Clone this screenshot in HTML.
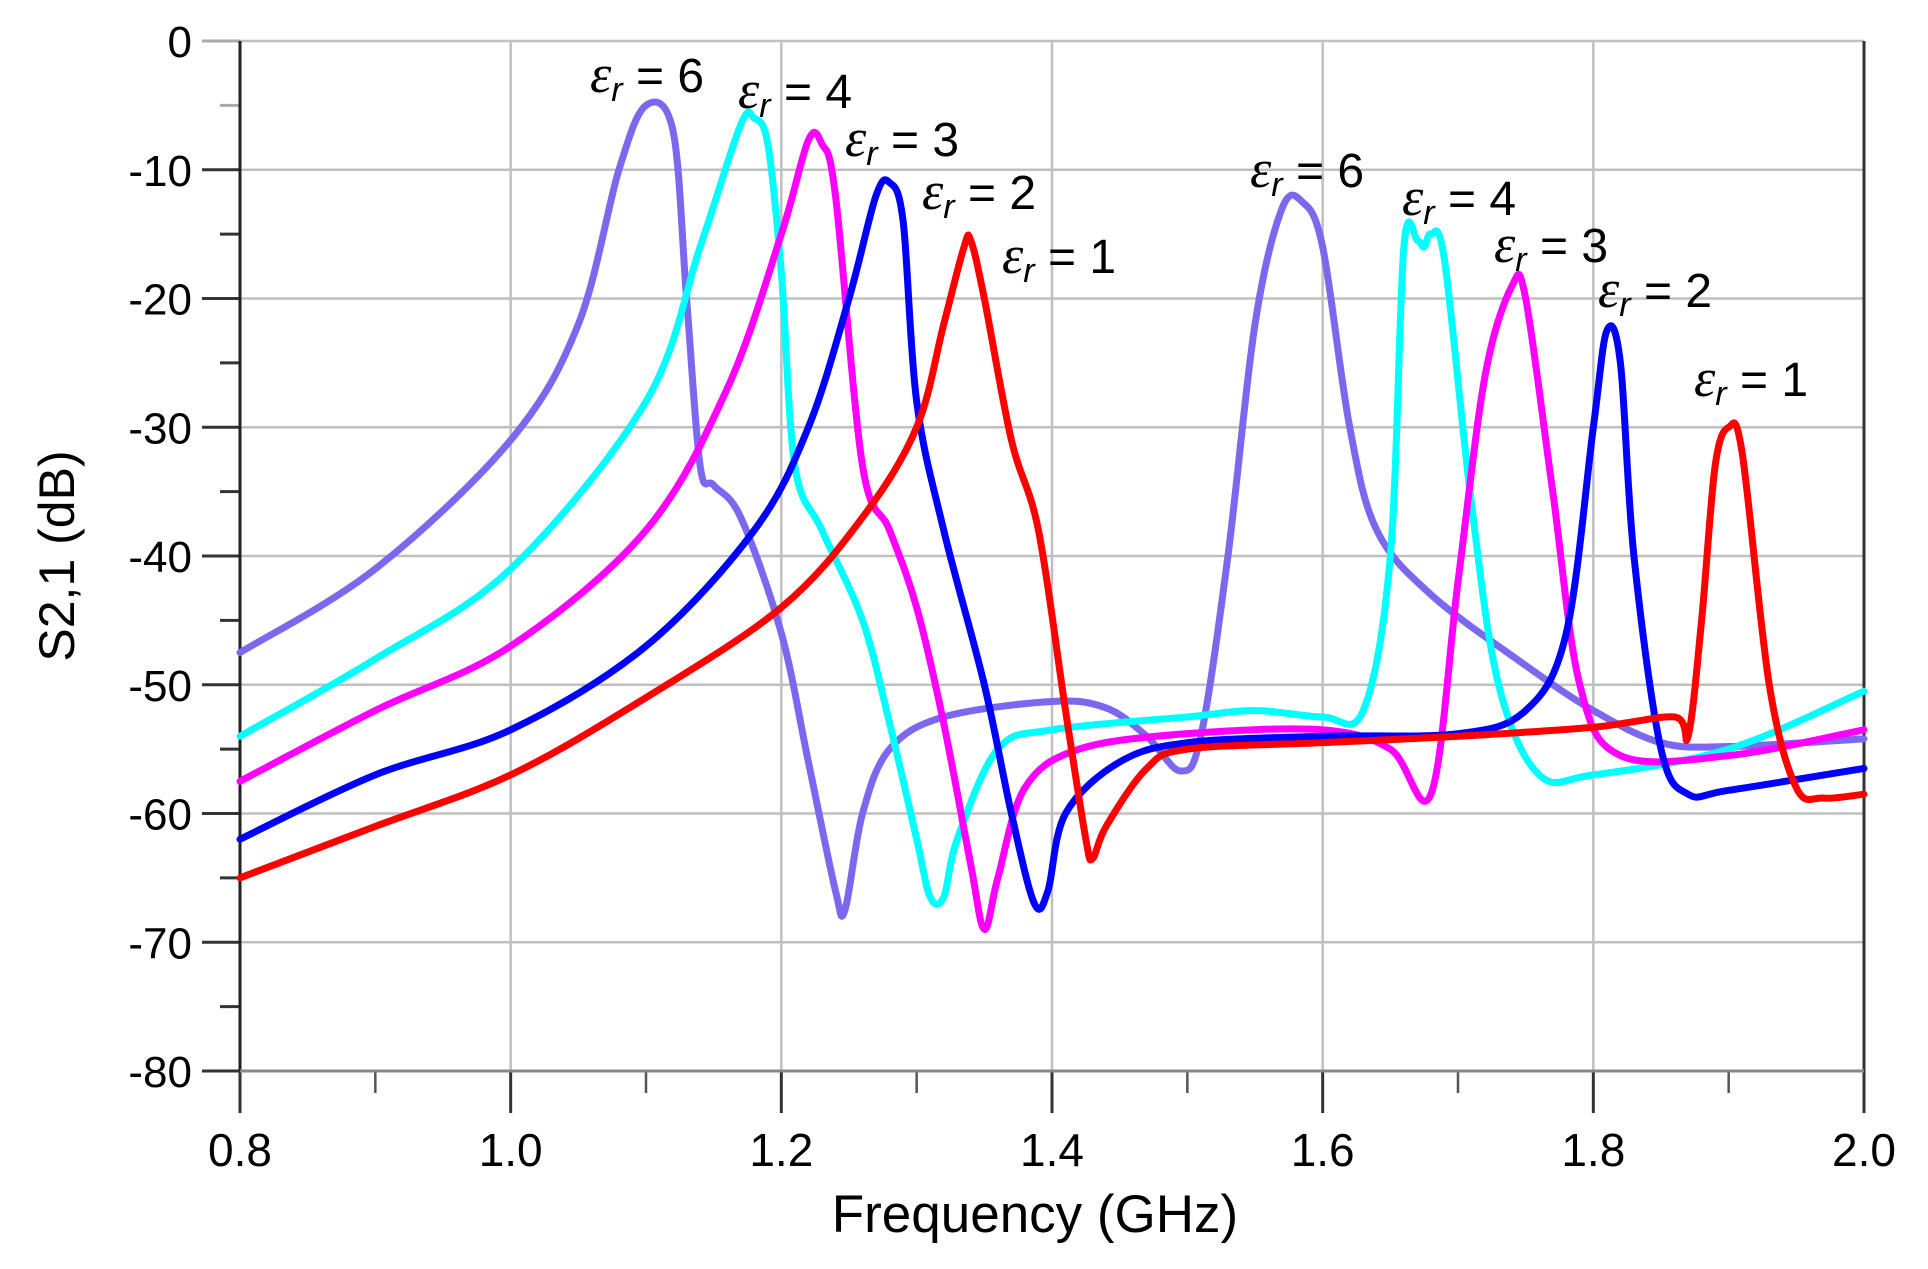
<!DOCTYPE html>
<html><head><meta charset="utf-8"><style>
html,body{margin:0;padding:0;background:#fff;}
svg{display:block;}
text{font-family:"Liberation Sans",sans-serif;fill:#000;}
</style></head><body>
<svg id="s" width="1928" height="1269" xmlns="http://www.w3.org/2000/svg">
<g id="grid"></g>
<g id="curves" fill="none" stroke-width="7" stroke-linejoin="round" stroke-linecap="round"></g>
<g id="lab" font-size="48"></g>
<text x="1035" y="1232" font-size="53" text-anchor="middle">Frequency (GHz)</text>
<text transform="translate(74,556) rotate(-90)" font-size="50" text-anchor="middle">S2,1 (dB)</text>
</svg>
<script>
const L=240,R=1864,T=41,B=1071;
const X=f=>L+(f-0.8)/1.2*(R-L), Y=d=>T+(-d)/80*(B-T);
const ns="http://www.w3.org/2000/svg";
function el(p,t,a,txt){const e=document.createElementNS(ns,t);for(const k in a)e.setAttribute(k,a[k]);if(txt!==undefined)e.textContent=txt;p.appendChild(e);return e;}
const g=document.getElementById('grid');
for(let i=0;i<=6;i++){const x=X(0.8+0.2*i);el(g,'line',{x1:x,y1:T,x2:x,y2:B,stroke:'#c0c0c0','stroke-width':2.5});
 el(g,'line',{x1:x,y1:B,x2:x,y2:B+42,stroke:'#333','stroke-width':3});
 el(g,'text',{x:x,y:1166,'font-size':46,'text-anchor':'middle'},(0.8+0.2*i).toFixed(1));
 if(i<6){const xm=X(0.9+0.2*i);el(g,'line',{x1:xm,y1:B,x2:xm,y2:B+22,stroke:'#555','stroke-width':2.5});}}
for(let i=0;i<=8;i++){const y=Y(-10*i);el(g,'line',{x1:L,y1:y,x2:R,y2:y,stroke:'#c0c0c0','stroke-width':2.5});
 el(g,'line',{x1:L-38,y1:y,x2:L,y2:y,stroke:i==0?'#aaa':'#333','stroke-width':3});
 el(g,'text',{x:192,y:y+16,'font-size':44,'text-anchor':'end'},i==0?'0':'-'+(10*i));
 if(i<8){const ym=Y(-10*i-5);el(g,'line',{x1:L-20,y1:ym,x2:L,y2:ym,stroke:i==0?'#aaa':'#333','stroke-width':3});}}
el(g,'line',{x1:L,y1:T,x2:L,y2:B,stroke:'#222','stroke-width':3});
el(g,'line',{x1:R,y1:T,x2:R,y2:B,stroke:'#333','stroke-width':3});
el(g,'line',{x1:L,y1:B,x2:R,y2:B,stroke:'#888','stroke-width':3});
const data={
'#7B68EE':[[0.8,-47.5],[0.9,-41],[1.0,-31],[1.05,-22],[1.08,-10],[1.10,-5],[1.12,-7],[1.13,-20],[1.14,-33],[1.15,-34.5],[1.17,-37],[1.2,-46],[1.22,-56],[1.24,-66],[1.247,-67.5],[1.26,-60],[1.28,-55],[1.32,-52.5],[1.4,-51.3],[1.44,-51.8],[1.47,-54],[1.495,-56.7],[1.51,-54],[1.53,-40],[1.55,-22],[1.57,-13],[1.585,-12.5],[1.6,-16],[1.62,-30],[1.64,-38],[1.68,-43],[1.75,-48.5],[1.8,-52],[1.85,-54.5],[1.9,-54.8],[2.0,-54.2]],
'#00FFFF':[[0.8,-54],[0.9,-48],[1.0,-41],[1.1,-28],[1.14,-16],[1.17,-6.5],[1.18,-6],[1.19,-8],[1.2,-18],[1.21,-33],[1.23,-38],[1.26,-45],[1.28,-53],[1.3,-62],[1.31,-66.5],[1.32,-66.5],[1.33,-62],[1.36,-55],[1.4,-53.5],[1.5,-52.5],[1.55,-52],[1.6,-52.5],[1.63,-52],[1.65,-40],[1.66,-16],[1.67,-15.5],[1.675,-16],[1.68,-15],[1.69,-17],[1.71,-36],[1.73,-50],[1.76,-57],[1.8,-57],[1.9,-55],[2.0,-50.5]],
'#FF00FF':[[0.8,-57.5],[0.9,-52],[1.0,-47],[1.1,-38],[1.16,-27],[1.2,-15],[1.22,-7.7],[1.23,-8],[1.24,-12],[1.26,-33],[1.28,-38],[1.3,-44],[1.32,-53],[1.34,-64],[1.35,-69],[1.36,-65],[1.38,-58],[1.42,-55],[1.5,-53.8],[1.6,-53.5],[1.65,-55],[1.68,-58.5],[1.7,-42],[1.72,-26],[1.74,-19],[1.75,-20],[1.77,-35],[1.79,-50],[1.82,-55.5],[1.9,-55.5],[2.0,-53.5]],
'#0000FF':[[0.8,-62],[0.9,-57],[1.0,-53.5],[1.1,-47],[1.18,-38],[1.22,-30],[1.25,-20],[1.27,-12],[1.28,-11],[1.29,-14],[1.3,-28],[1.32,-38],[1.35,-50],[1.37,-60],[1.387,-67],[1.397,-66],[1.41,-60],[1.45,-56],[1.5,-54.5],[1.6,-54],[1.7,-53.8],[1.75,-52],[1.78,-46],[1.8,-30],[1.81,-22.5],[1.82,-25],[1.83,-40],[1.85,-55],[1.87,-58.5],[1.9,-58.2],[2.0,-56.5]],
'#FF0000':[[0.8,-65],[0.9,-61],[1.0,-57],[1.1,-51],[1.2,-44],[1.26,-37],[1.3,-30],[1.32,-22],[1.335,-16],[1.34,-15.5],[1.35,-20],[1.37,-31],[1.39,-38],[1.41,-52],[1.425,-62],[1.43,-63.5],[1.44,-61],[1.47,-56.5],[1.5,-55],[1.6,-54.5],[1.7,-54],[1.8,-53.3],[1.86,-52.5],[1.87,-54],[1.88,-45],[1.89,-33],[1.9,-30],[1.91,-32],[1.93,-50],[1.95,-58],[1.97,-58.8],[2.0,-58.5]]};
const cg=document.getElementById('curves');
for(const c in data){const p=data[c].map(q=>[X(q[0]),Y(q[1])]);let d='M'+p[0][0]+','+p[0][1];
 for(let i=0;i<p.length-1;i++){const p0=p[i-1]||p[i],p1=p[i],p2=p[i+1],p3=p[i+2]||p2;
  d+=' C'+(p1[0]+(p2[0]-p0[0])/6)+','+(p1[1]+(p2[1]-p0[1])/6)+' '+(p2[0]-(p3[0]-p1[0])/6)+','+(p2[1]-(p3[1]-p1[1])/6)+' '+p2[0]+','+p2[1];}
 el(cg,'path',{d:d,stroke:c});}
const labs=[[590,92,6],[738,108,4],[845,156,3],[922,209,2],[1002,273,1],[1250,187,6],[1402,215,4],[1494,262,3],[1598,307,2],[1694,396,1]];
const lg=document.getElementById('lab');
for(const l of labs){const t=el(lg,'text',{x:l[0],y:l[1]});
 el(t,'tspan',{'font-style':'italic','font-family':'Liberation Serif,serif','font-size':54},'ε');
 el(t,'tspan',{'font-style':'italic','font-size':34,dy:9},'r');
 el(t,'tspan',{dy:-9},' = '+l[2]);}
</script>
</body></html>
